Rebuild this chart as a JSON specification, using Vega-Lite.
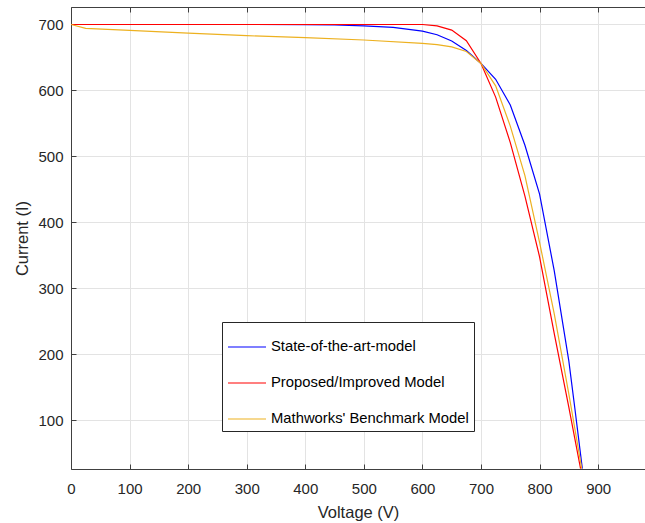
{
  "$schema": "https://vega.github.io/schema/vega-lite/v6.json",
  "autosize": {"type": "none"},
  "padding": {"left": 71, "top": 7, "right": 0, "bottom": 54},
  "width": 574,
  "height": 462,
  "background": "white",
  "config": {
    "font": "Liberation Sans",
    "view": {"stroke": null},
    "axis": {
      "domainColor": "#404040",
      "tickColor": "#404040",
      "labelColor": "#262626",
      "titleColor": "#262626",
      "labelFont": "Liberation Sans",
      "titleFont": "Liberation Sans",
      "labelFontSize": 15,
      "titleFontSize": 16.5,
      "titleFontWeight": "normal",
      "gridColor": "#e3e3e3",
      "gridWidth": 1,
      "domainWidth": 1
    }
  },
  "data": {
    "values": [
      {"model": "State-of-the-art-model", "V": 0, "I": 700},
      {"model": "State-of-the-art-model", "V": 300, "I": 700},
      {"model": "State-of-the-art-model", "V": 400, "I": 699.7},
      {"model": "State-of-the-art-model", "V": 450, "I": 699.2},
      {"model": "State-of-the-art-model", "V": 500, "I": 698},
      {"model": "State-of-the-art-model", "V": 550, "I": 695.5},
      {"model": "State-of-the-art-model", "V": 600, "I": 690},
      {"model": "State-of-the-art-model", "V": 625, "I": 684.5},
      {"model": "State-of-the-art-model", "V": 650, "I": 675},
      {"model": "State-of-the-art-model", "V": 675, "I": 660.5},
      {"model": "State-of-the-art-model", "V": 700, "I": 641},
      {"model": "State-of-the-art-model", "V": 725, "I": 617},
      {"model": "State-of-the-art-model", "V": 750, "I": 578},
      {"model": "State-of-the-art-model", "V": 775, "I": 517},
      {"model": "State-of-the-art-model", "V": 800, "I": 443},
      {"model": "State-of-the-art-model", "V": 825, "I": 327},
      {"model": "State-of-the-art-model", "V": 850, "I": 190},
      {"model": "State-of-the-art-model", "V": 860, "I": 120},
      {"model": "State-of-the-art-model", "V": 873, "I": 27},
      {"model": "Proposed/Improved Model", "V": 0, "I": 700},
      {"model": "Proposed/Improved Model", "V": 600, "I": 700},
      {"model": "Proposed/Improved Model", "V": 625, "I": 698},
      {"model": "Proposed/Improved Model", "V": 650, "I": 691.5},
      {"model": "Proposed/Improved Model", "V": 675, "I": 675.5},
      {"model": "Proposed/Improved Model", "V": 700, "I": 641},
      {"model": "Proposed/Improved Model", "V": 725, "I": 590},
      {"model": "Proposed/Improved Model", "V": 750, "I": 521},
      {"model": "Proposed/Improved Model", "V": 775, "I": 440},
      {"model": "Proposed/Improved Model", "V": 800, "I": 348},
      {"model": "Proposed/Improved Model", "V": 825, "I": 232},
      {"model": "Proposed/Improved Model", "V": 850, "I": 120},
      {"model": "Proposed/Improved Model", "V": 870, "I": 27},
      {"model": "Mathworks' Benchmark Model", "V": 0, "I": 700},
      {"model": "Mathworks' Benchmark Model", "V": 25, "I": 694},
      {"model": "Mathworks' Benchmark Model", "V": 100, "I": 691},
      {"model": "Mathworks' Benchmark Model", "V": 200, "I": 687},
      {"model": "Mathworks' Benchmark Model", "V": 300, "I": 683},
      {"model": "Mathworks' Benchmark Model", "V": 400, "I": 680},
      {"model": "Mathworks' Benchmark Model", "V": 500, "I": 676.5},
      {"model": "Mathworks' Benchmark Model", "V": 600, "I": 671.5},
      {"model": "Mathworks' Benchmark Model", "V": 625, "I": 669.5},
      {"model": "Mathworks' Benchmark Model", "V": 650, "I": 666},
      {"model": "Mathworks' Benchmark Model", "V": 675, "I": 659},
      {"model": "Mathworks' Benchmark Model", "V": 700, "I": 641},
      {"model": "Mathworks' Benchmark Model", "V": 725, "I": 607},
      {"model": "Mathworks' Benchmark Model", "V": 750, "I": 546},
      {"model": "Mathworks' Benchmark Model", "V": 775, "I": 471},
      {"model": "Mathworks' Benchmark Model", "V": 800, "I": 370},
      {"model": "Mathworks' Benchmark Model", "V": 825, "I": 262},
      {"model": "Mathworks' Benchmark Model", "V": 850, "I": 140},
      {"model": "Mathworks' Benchmark Model", "V": 872, "I": 27}
    ]
  },
  "resolve": {"axis": {"x": "independent", "y": "independent"}},
  "layer": [
    {
      "mark": {"type": "line", "strokeWidth": 1.2, "clip": true},
      "encoding": {
        "x": {
          "field": "V",
          "type": "quantitative",
          "scale": {"domain": [0, 980], "nice": false, "zero": false},
          "axis": {
            "title": "Voltage (V)",
            "values": [0, 100, 200, 300, 400, 500, 600, 700, 800, 900],
            "tickSize": -5,
            "labelPadding": 17,
            "titlePadding": 8,
            "labelFlush": false
          }
        },
        "y": {
          "field": "I",
          "type": "quantitative",
          "scale": {"domain": [26.5, 726.5], "nice": false, "zero": false},
          "axis": {
            "title": "Current (I)",
            "values": [100, 200, 300, 400, 500, 600, 700],
            "tickSize": -5,
            "labelPadding": 13,
            "titlePadding": 7,
            "labelFlush": false
          }
        },
        "color": {
          "field": "model",
          "type": "nominal",
          "sort": ["State-of-the-art-model", "Proposed/Improved Model", "Mathworks' Benchmark Model"],
          "scale": {
            "domain": ["State-of-the-art-model", "Proposed/Improved Model", "Mathworks' Benchmark Model"],
            "range": ["#0000ff", "#ff0000", "#edb120"]
          },
          "legend": {
            "title": null,
            "orient": "none",
            "legendX": 151,
            "legendY": 315,
            "direction": "vertical",
            "fillColor": "white",
            "strokeColor": "#262626",
            "padding": 5,
            "symbolType": "stroke",
            "symbolSize": 1444,
            "symbolStrokeWidth": 1.2,
            "labelFont": "Liberation Sans",
            "labelFontSize": 14.8,
            "labelColor": "#000000",
            "labelOffset": 4,
            "rowPadding": 9,
            "labelLimit": 400
          }
        },
        "order": {"field": "V", "type": "quantitative"}
      }
    },
    {
      "mark": {"type": "line", "opacity": 0, "clip": true},
      "encoding": {
        "x": {
          "field": "V",
          "type": "quantitative",
          "scale": {"domain": [0, 980], "nice": false, "zero": false},
          "axis": {
            "orient": "top",
            "title": null,
            "labels": false,
            "grid": false,
            "values": [0, 100, 200, 300, 400, 500, 600, 700, 800, 900],
            "tickSize": -5
          }
        },
        "y": {
          "field": "I",
          "type": "quantitative",
          "scale": {"domain": [26.5, 726.5], "nice": false, "zero": false},
          "axis": null
        },
        "detail": {"field": "model"}
      }
    }
  ]
}
